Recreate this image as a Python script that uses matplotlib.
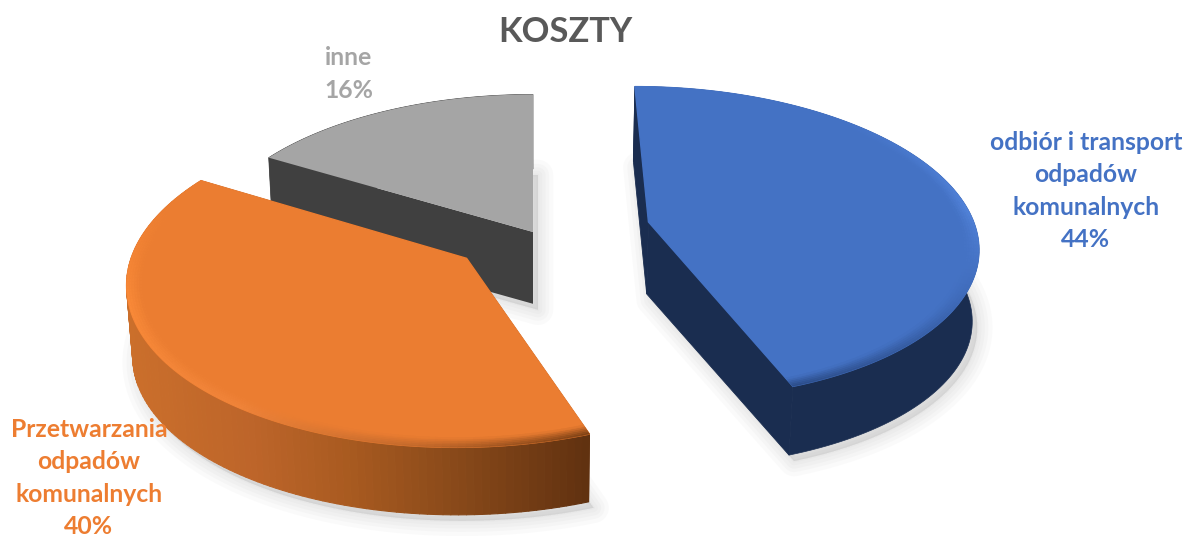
import matplotlib
matplotlib.use("Agg")
import matplotlib.pyplot as plt
import numpy as np
from matplotlib.collections import PolyCollection
from matplotlib.colors import to_rgb
from matplotlib.patches import Polygon

plt.rcParams["font.family"] = ["Lato", "DejaVu Sans"]

# dane wykresu
categories = ["odbiór i transport\nodpadów\nkomunalnych", "Przetwarzania\nodpadów\nkomunalnych", "inne"]
shares = [44.4, 39.1, 16.5]
share_labels = ["44%", "40%", "16%"]
title = "KOSZTY"

top_colors = ["#4472C4", "#EB7D31", "#A5A5A5"]
side_colors = ["#1A2D50", "#6B3511", "#404040"]
label_colors = ["#4472C4", "#ED7D31", "#A5A5A5"]
explode_x = [0.355, -0.198, 0.0]
explode_y = [0.065, -0.165, 0.0]
label_xy = [(1086, 191), (89, 478), (349, 74)]

# rzut perspektywiczny
VX, VY = 533, 232
A, B, K = 328, 156, 0.134
SHRINK = 0.985


def project(X, Y):
    s = 1 / (1 + K * Y)
    return VX + A * X * s, VY - B * Y * s


def drop(x, y):
    return VX + (x - VX) * SHRINK, y + 72 - 0.02 * (y - 222)


def arc(theta, ox, oy, r=1.0):
    return project(ox + r * np.sin(theta), oy + r * np.cos(theta))


def blend(c1, c2, t):
    c1, c2 = np.array(to_rgb(c1)), np.array(to_rgb(c2))
    return tuple(c1 + (c2 - c1) * t)


def ramp(v, xs, colors):
    cols = np.array([to_rgb(c) for c in colors])
    return tuple(np.interp(v, xs, cols[:, n]) for n in range(3))


def wall_color(i, x):
    if i == 1:
        return ramp(x, [125, 250, 350, 450, 590], ["#CB6F2B", "#BD652A", "#A85A20", "#8A4A1A", "#603110"])
    return to_rgb(side_colors[i])


def rim_color(i, deg):
    if i == 1:
        return ramp(deg, [160, 185, 215, 255, 290], ["#7A3F14", "#C0672A", "#F0843A", "#FA8A38", "#EB7D31"])
    return ramp(deg, [40, 85, 115, 160], ["#4472C4", "#5283DA", "#3F6BBA", "#2A4A85"])


fig = plt.figure(figsize=(11.88, 5.36), dpi=100)
ax = fig.add_axes([0, 0, 1, 1])
ax.set_xlim(0, 1188)
ax.set_ylim(536, 0)
ax.axis("off")

# kolejność rysowania: od tyłu do przodu
order = [2, 0, 1]
bounds = np.cumsum([0] + shares) / 100 * 2 * np.pi

for i in order:
    z = order.index(i) * 10
    t = np.linspace(bounds[i], bounds[i + 1], 121)
    ox, oy = explode_x[i], explode_y[i]
    ax_, ay_ = project(ox, oy)
    x, y = arc(t, ox, oy)
    outline_x = np.r_[ax_, x]
    outline_y = np.r_[ay_, y]
    bx, by = drop(outline_x, outline_y)

    # miękki cień pod wycinkiem
    for lw in [22, 16, 11, 6, 2]:
        ax.add_patch(Polygon(np.c_[bx + 5, by + 6], closed=True, fc="#808080", ec="#808080",
                             lw=lw, alpha=0.035, joinstyle="round", zorder=z))

    # ściany radialne
    for e in [0, -1]:
        quad = [(ax_, ay_), (x[e], y[e]), drop(x[e], y[e]), drop(ax_, ay_)]
        ax.add_patch(Polygon(quad, closed=True, fc=side_colors[i], ec=side_colors[i],
                             lw=0 if i == 2 else 0.6, zorder=z + 1))

    # ściana zewnętrzna
    x2, y2 = drop(x, y)
    if i == 1:
        quads = [[(x[k], y[k]), (x[k + 1], y[k + 1]), (x2[k + 1], y2[k + 1]), (x2[k], y2[k])]
                 for k in range(len(t) - 1)]
        cols = [wall_color(i, (x[k] + x[k + 1]) / 2) for k in range(len(t) - 1)]
        ax.add_collection(PolyCollection(quads, facecolors=cols, edgecolors=cols, linewidths=0.8,
                                         zorder=z + 2))
    else:
        ax.add_patch(Polygon(np.r_[np.c_[x, y], np.c_[x2, y2][::-1]], closed=True, fc=side_colors[i],
                             ec=side_colors[i], lw=0.5, zorder=z + 2))

    # górna powierzchnia
    ax.add_patch(Polygon(np.c_[outline_x, outline_y], closed=True, fc=top_colors[i], ec=top_colors[i],
                         lw=0 if i == 2 else 1.0, zorder=z + 3))

    # fazowanie krawędzi
    if i != 2:
        radii = np.linspace(1.0, 0.955, 7)
        degs = np.degrees(t)
        for n in range(len(radii) - 1):
            xa, ya = arc(t, ox, oy, radii[n])
            xb, yb = arc(t, ox, oy, radii[n + 1])
            quads = [[(xa[k], ya[k]), (xa[k + 1], ya[k + 1]), (xb[k + 1], yb[k + 1]), (xb[k], yb[k])]
                     for k in range(len(t) - 1)]
            f = (n + 0.5) / (len(radii) - 1)
            cols = [blend(rim_color(i, degs[k]), top_colors[i], f ** 1.2) for k in range(len(t) - 1)]
            ax.add_collection(PolyCollection(quads, facecolors=cols, edgecolors=cols, linewidths=0.4,
                                             zorder=z + 4))

ax.text(565, 32, title, ha="center", va="center", fontsize=24.8, fontweight="bold", color="#595959", zorder=50)

for i, name in enumerate(categories):
    ax.text(label_xy[i][0], label_xy[i][1], f"{name}\n{share_labels[i]}", ha="center", va="center",
            fontsize=17.8, fontweight="bold", color=label_colors[i], linespacing=1.5, zorder=50)

fig.savefig("out.png", dpi=100, facecolor="white")
